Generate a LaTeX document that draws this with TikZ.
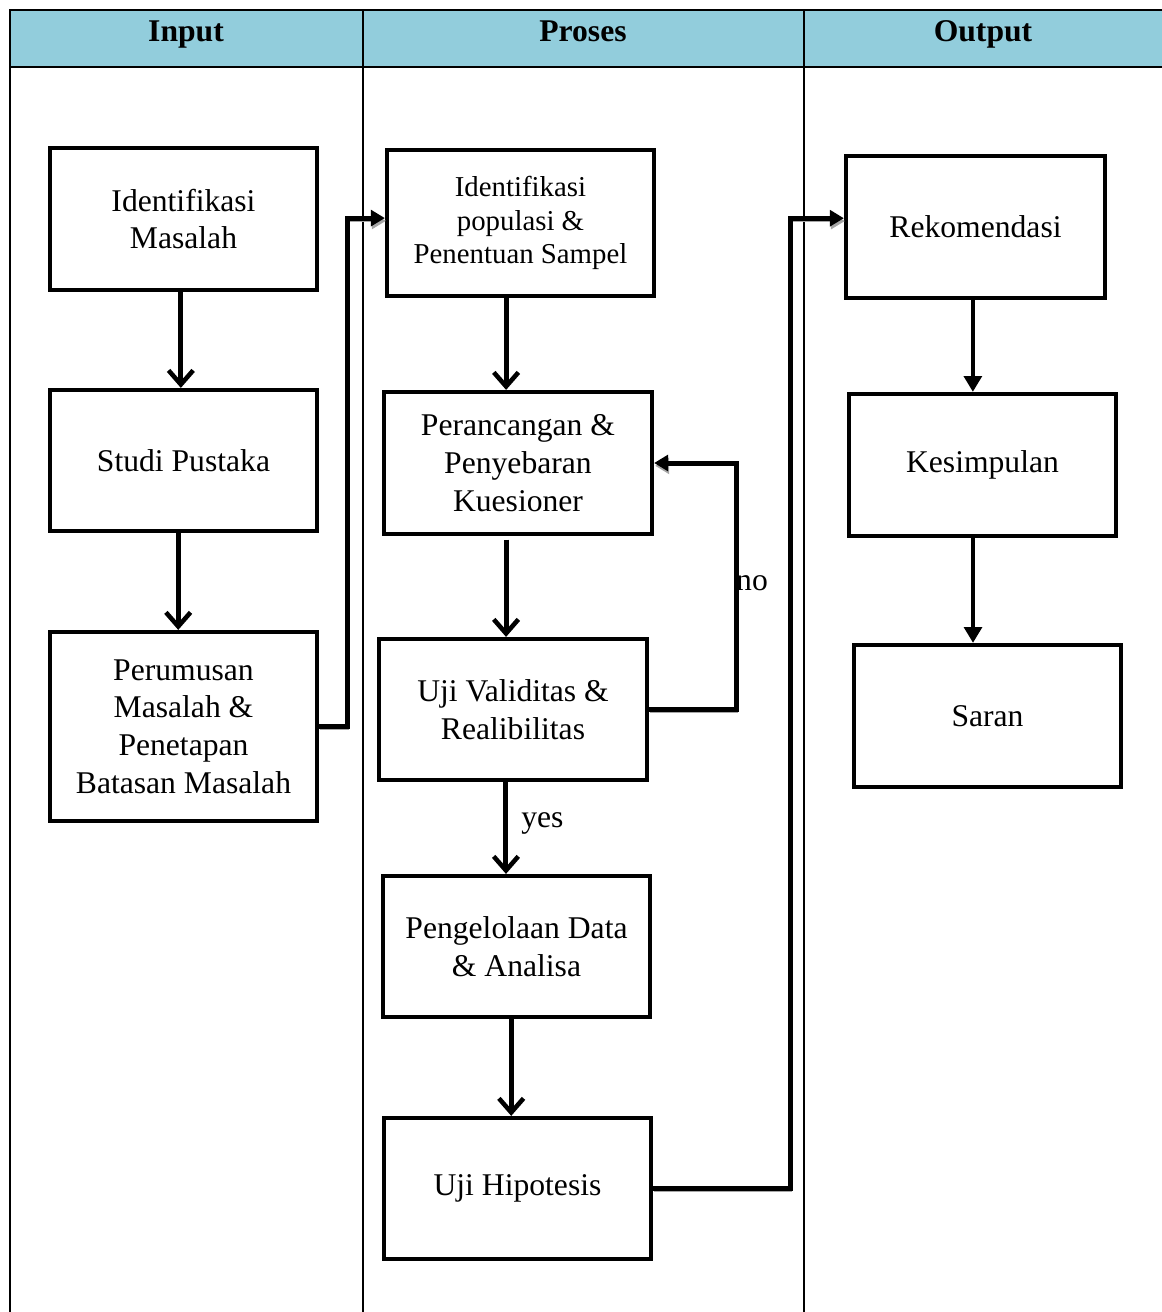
\documentclass[tikz,border=0pt]{standalone}
\usepackage{fontspec}
\setmainfont{Liberation Serif}
\usepackage{tikz}
\usetikzlibrary{arrows.meta}
\definecolor{headblue}{RGB}{146,205,220}

\begin{document}
\begin{tikzpicture}[x=0.02cm, y=-0.02cm,
  box/.style={draw, line width=0.085cm, align=center, inner sep=2pt, font=\fontsize{18}{21.5}\selectfont},
  down/.style={line width=0.1cm, -{Straight Barb[length=8pt,width=14pt,line width=2.6pt]}},
  outdown/.style={line width=0.08cm, -{Triangle[length=9pt,width=10pt]}},
  elbow/.style={line width=0.1cm, -{Triangle[length=8pt,width=9pt]},
    preaction={draw=black!35, transform canvas={shift={(0.6pt,-1.6pt)}}}},
  grid/.style={line width=0.04cm},
  head/.style={anchor=base, font=\fontsize{18}{21.5}\selectfont\bfseries}]
  \useasboundingbox (0,0) rectangle (1162,1312);
  \fill[headblue] (10,10) rectangle (1162,67);
  \draw[grid] (1162,10) -- (10,10) -- (10,1312)
              (10,67) -- (1162,67)
              (363,10) -- (363,1312)
              (804,10) -- (804,1312);
  \node[head] (hin)  at (186,41) {Input};
  \node[head] (hpr)  at (583,41) {Proses};
  \node[head] (hout) at (983,41) {Output};

  \node[box, minimum width=5.34cm, minimum height=2.84cm] (im) at (183.5,219) {Identifikasi\\Masalah};
  \node[box, minimum width=5.34cm, minimum height=2.82cm] (sp) at (183.5,460.5) {Studi Pustaka};
  \node[box, minimum width=5.34cm, minimum height=3.78cm] (pm) at (183.5,726.5) {Perumusan\\Masalah \&\\Penetapan\\Batasan Masalah};

  \node[box, minimum width=5.34cm, minimum height=2.92cm, font=\fontsize{16.4}{19.3}\selectfont] (ip) at (520.5,223) {Identifikasi\\populasi \&\\Penentuan Sampel};
  \node[box, minimum width=5.36cm, minimum height=2.84cm] (pp) at (518,463) {Perancangan \&\\Penyebaran\\Kuesioner};
  \node[box, minimum width=5.36cm, minimum height=2.82cm] (uv) at (513,709.5) {Uji Validitas \&\\Realibilitas};
  \node[box, minimum width=5.34cm, minimum height=2.82cm] (pd) at (516.5,946.5) {Pengelolaan Data\\\& Analisa};
  \node[box, minimum width=5.34cm, minimum height=2.82cm] (uh) at (517.5,1188.5) {Uji Hipotesis};

  \node[box, minimum width=5.18cm, minimum height=2.84cm] (rk) at (975.5,227) {Rekomendasi};
  \node[box, minimum width=5.34cm, minimum height=2.84cm] (ks) at (982.5,465) {Kesimpulan};
  \node[box, minimum width=5.34cm, minimum height=2.84cm] (sr) at (987.5,716) {Saran};

  \draw[down] ([xshift=-1.5pt]im.south) -- ([xshift=-1.5pt]im.south |- sp.north);
  \draw[down] ([xshift=-3pt]sp.south) -- ([xshift=-3pt]sp.south |- pm.north);
  \draw[down] ([xshift=-8.2pt]ip.south) -- ([xshift=-8.2pt]ip.south |- pp.north);
  \draw[down] ([xshift=-6.8pt,yshift=-2pt]pp.south) -- ([xshift=-6.8pt]pp.south |- uv.north);
  \draw[down] ([xshift=-4pt]uv.south) -- ([xshift=-4pt]uv.south |- pd.north)
    node[pos=0.45, right=4pt, font=\fontsize{18}{21.5}\selectfont] (yes) {yes};
  \draw[down] ([xshift=-3pt]pd.south) -- ([xshift=-3pt]pd.south |- uh.north);
  \draw[outdown] ([xshift=-1.5pt]rk.south) -- ([xshift=-1.5pt]rk.south |- ks.north);
  \draw[outdown] ([xshift=-5.4pt]ks.south) -- ([xshift=-5.4pt]ks.south |- sr.north);

  \draw[elbow] (pm.east) -- ++(28,0) |- ([yshift=2.8pt]ip.west);
  \draw[elbow] (uv.east) -- ++(87,0) |- (pp.east);
  \draw[elbow] (uh.east) -- ++(137,0) |- ([yshift=5pt]rk.west);
  \node[font=\fontsize{18}{21.5}\selectfont] (no) at (752,583) {no};
\end{tikzpicture}
\end{document}
